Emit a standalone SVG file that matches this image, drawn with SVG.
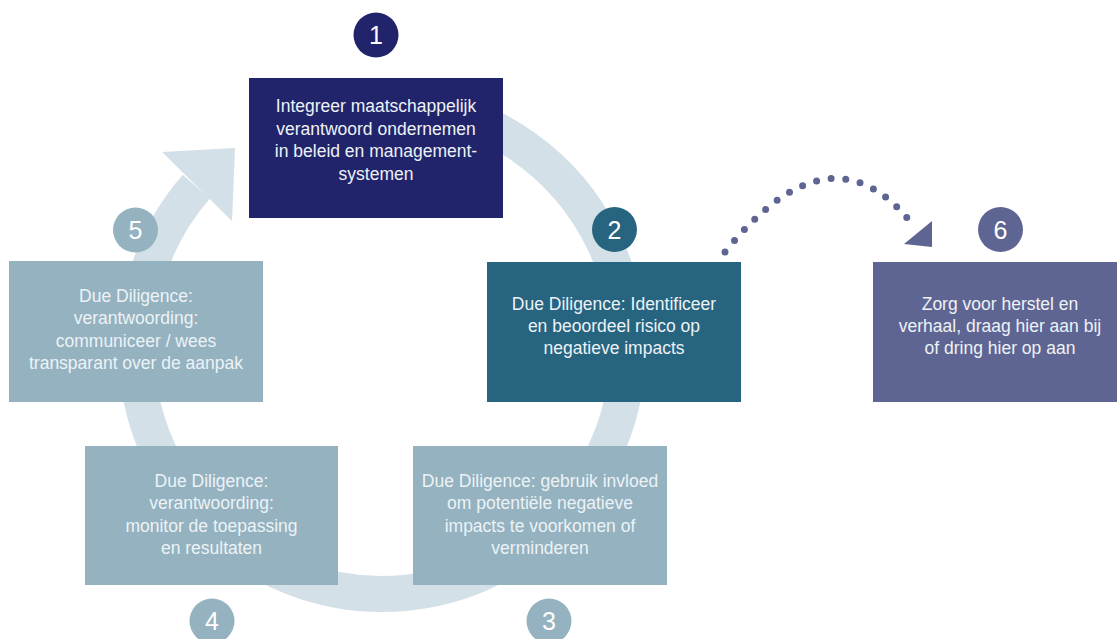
<svg xmlns="http://www.w3.org/2000/svg" width="1117" height="639" viewBox="0 0 1117 639">
<style>
.lbl{font-family:"Liberation Sans",Arial,sans-serif;font-size:17.5px;fill:#edf2f6;text-anchor:middle}
.num{font-family:"Liberation Sans",Arial,sans-serif;font-size:25px;fill:#ffffff;text-anchor:middle}
.navy{fill:#21246a}
.teal{fill:#266480}
.purple{fill:#5f6592}
.light{fill:#94b2c0}
</style>
<rect width="1117" height="639" fill="#ffffff"/>
<g id="connectors">
  <path d="M 297.9 116.8 A 246 246 0 1 1 196.3 186.6" fill="none" stroke="#d4e0e7" stroke-width="36"/>
  <polygon points="162,152 235,148 232,221" fill="#d4e0e7"/>
  <path d="M 725 252 Q 833 117.5 916 229" fill="none" stroke="#5f6592" stroke-width="7" stroke-linecap="round" stroke-dasharray="0 1" pathLength="16"/>
  <polygon points="904,244 932,221 932,247" fill="#5f6592"/>
</g>
<g id="step1">
  <rect class="navy" x="249" y="78" width="254" height="140"/>
  <circle class="navy" cx="376" cy="35" r="22.5"/>
  <text class="num" x="376" y="44">1</text>
  <text class="lbl" x="376" y="112">Integreer maatschappelijk</text>
  <text class="lbl" x="376" y="134.5">verantwoord ondernemen</text>
  <text class="lbl" x="376" y="157">in beleid en management-</text>
  <text class="lbl" x="376" y="179.5">systemen</text>
</g>
<g id="step2">
  <rect class="teal" x="487" y="262" width="254" height="140"/>
  <circle class="teal" cx="614.5" cy="229.5" r="22.5"/>
  <text class="num" x="614.5" y="238.5">2</text>
  <text class="lbl" x="614" y="310">Due Diligence: Identificeer</text>
  <text class="lbl" x="614" y="332">en beoordeel risico op</text>
  <text class="lbl" x="614" y="354">negatieve impacts</text>
</g>
<g id="step3">
  <rect class="light" x="413" y="446" width="254" height="139"/>
  <circle class="light" cx="549" cy="621" r="22.5"/>
  <text class="num" x="549" y="630">3</text>
  <text class="lbl" x="540" y="487">Due Diligence: gebruik invloed</text>
  <text class="lbl" x="540" y="509">om potentiële negatieve</text>
  <text class="lbl" x="540" y="531.5">impacts te voorkomen of</text>
  <text class="lbl" x="540" y="554">verminderen</text>
</g>
<g id="step4">
  <rect class="light" x="85" y="446" width="253" height="139"/>
  <circle class="light" cx="212" cy="621" r="22.5"/>
  <text class="num" x="212" y="630">4</text>
  <text class="lbl" x="211.5" y="487">Due Diligence:</text>
  <text class="lbl" x="211.5" y="509">verantwoording:</text>
  <text class="lbl" x="211.5" y="531.5">monitor de toepassing</text>
  <text class="lbl" x="211.5" y="554">en resultaten</text>
</g>
<g id="step5">
  <rect class="light" x="9" y="261" width="254" height="141"/>
  <circle class="light" cx="135.5" cy="230" r="22.5"/>
  <text class="num" x="135.5" y="239">5</text>
  <text class="lbl" x="136" y="302">Due Diligence:</text>
  <text class="lbl" x="136" y="324">verantwoording:</text>
  <text class="lbl" x="136" y="346.5">communiceer / wees</text>
  <text class="lbl" x="136" y="369">transparant over de aanpak</text>
</g>
<g id="step6">
  <rect class="purple" x="873" y="262" width="254" height="140"/>
  <circle class="purple" cx="1000.5" cy="229.5" r="22.5"/>
  <text class="num" x="1000.5" y="238.5">6</text>
  <text class="lbl" x="1000" y="310">Zorg voor herstel en</text>
  <text class="lbl" x="1000" y="332">verhaal, draag hier aan bij</text>
  <text class="lbl" x="1000" y="354">of dring hier op aan</text>
</g>
</svg>
